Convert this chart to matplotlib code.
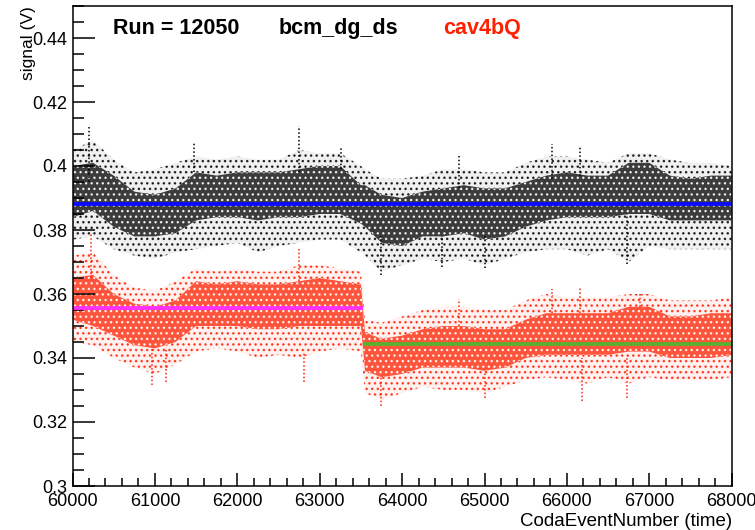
import matplotlib
matplotlib.use("Agg")
import matplotlib.pyplot as plt
from matplotlib.ticker import MultipleLocator

plt.rcParams["font.family"] = ["Liberation Sans", "DejaVu Sans"]
plt.rcParams["hatch.linewidth"] = 1.0

# ---------- data ----------

run_label = "Run = 12050"
name_bcm = "bcm_dg_ds"
name_cav = "cav4bQ"

# event number grid (every 250 events, plus the point where cav4bQ steps down)
event_x = [60000, 60250, 60500, 60750, 61000, 61250, 61500, 61750, 62000,
           62250, 62500, 62750, 63000, 63250, 63500, 63550, 63750, 64000,
           64250, 64500, 64750, 65000, 65250, 65500, 65750, 66000, 66250,
           66500, 66750, 67000, 67250, 67500, 67750, 68000]

# bcm_dg_ds: dense band and outer envelope (V)
bcm_core_lo = [0.384, 0.386, 0.381, 0.378, 0.378, 0.379, 0.383, 0.384, 0.384,
               0.383, 0.384, 0.384, 0.385, 0.385, 0.382, 0.381, 0.376, 0.375,
               0.378, 0.378, 0.379, 0.377, 0.378, 0.381, 0.383, 0.384, 0.384,
               0.384, 0.385, 0.385, 0.383, 0.383, 0.383, 0.383]
bcm_core_hi = [0.400, 0.401, 0.397, 0.392, 0.391, 0.393, 0.398, 0.397, 0.398,
               0.398, 0.398, 0.399, 0.400, 0.400, 0.394, 0.394, 0.391, 0.390,
               0.392, 0.393, 0.394, 0.393, 0.393, 0.395, 0.397, 0.398, 0.397,
               0.397, 0.401, 0.401, 0.397, 0.396, 0.397, 0.397]
bcm_out_lo = [0.377, 0.378, 0.374, 0.372, 0.371, 0.373, 0.374, 0.375, 0.376,
              0.373, 0.375, 0.376, 0.377, 0.377, 0.373, 0.372, 0.367, 0.369,
              0.371, 0.370, 0.371, 0.369, 0.371, 0.373, 0.374, 0.374, 0.372,
              0.374, 0.370, 0.375, 0.374, 0.374, 0.374, 0.374]
bcm_out_hi = [0.405, 0.408, 0.402, 0.398, 0.399, 0.401, 0.403, 0.402, 0.403,
              0.402, 0.402, 0.405, 0.404, 0.404, 0.400, 0.399, 0.396, 0.396,
              0.397, 0.399, 0.399, 0.398, 0.398, 0.401, 0.403, 0.403, 0.402,
              0.401, 0.404, 0.404, 0.402, 0.401, 0.401, 0.400]

# cav4bQ: dense band and outer envelope (V)
cav_core_lo = [0.352, 0.350, 0.347, 0.344, 0.343, 0.345, 0.350, 0.350, 0.350,
               0.349, 0.349, 0.350, 0.350, 0.350, 0.350, 0.336, 0.334, 0.335,
               0.337, 0.337, 0.337, 0.336, 0.337, 0.340, 0.341, 0.341, 0.341,
               0.341, 0.342, 0.342, 0.340, 0.340, 0.340, 0.341]
cav_core_hi = [0.365, 0.366, 0.360, 0.357, 0.356, 0.358, 0.364, 0.363, 0.364,
               0.363, 0.363, 0.364, 0.365, 0.364, 0.363, 0.348, 0.346, 0.347,
               0.349, 0.350, 0.350, 0.349, 0.349, 0.352, 0.354, 0.354, 0.354,
               0.354, 0.356, 0.356, 0.353, 0.353, 0.354, 0.354]
cav_out_lo = [0.345, 0.344, 0.340, 0.337, 0.335, 0.338, 0.342, 0.343, 0.342,
              0.340, 0.341, 0.340, 0.342, 0.343, 0.342, 0.329, 0.327, 0.329,
              0.331, 0.330, 0.330, 0.329, 0.331, 0.333, 0.334, 0.333, 0.332,
              0.334, 0.332, 0.334, 0.333, 0.333, 0.333, 0.334]
cav_out_hi = [0.372, 0.373, 0.366, 0.362, 0.361, 0.364, 0.368, 0.367, 0.368,
              0.367, 0.367, 0.369, 0.369, 0.368, 0.367, 0.352, 0.351, 0.353,
              0.355, 0.356, 0.356, 0.355, 0.355, 0.358, 0.360, 0.359, 0.359,
              0.359, 0.360, 0.360, 0.358, 0.358, 0.358, 0.359]

# isolated spikes of single readings
bcm_spike_x = [60200, 61480, 62750, 63255, 64690, 65820, 66160,
               63740, 64490, 65010, 66730]
bcm_spike_lo = [0.395, 0.398, 0.398, 0.399, 0.393, 0.396, 0.397,
                0.366, 0.3685, 0.368, 0.3695]
bcm_spike_hi = [0.4125, 0.4075, 0.4125, 0.4055, 0.4035, 0.407, 0.406,
                0.378, 0.378, 0.378, 0.385]

cav_spike_x = [60220, 62750, 60970, 61130, 62810, 63740, 65010,
               66730, 66180, 65820, 64690, 66160, 66890]
cav_spike_lo = [0.365, 0.364, 0.3315, 0.3325, 0.3325, 0.325, 0.3275,
                0.3275, 0.3265, 0.354, 0.350, 0.354, 0.356]
cav_spike_hi = [0.379, 0.3745, 0.343, 0.343, 0.342, 0.334, 0.336,
                0.340, 0.340, 0.3615, 0.3585, 0.362, 0.360]

# constant fits: (start, stop, value)
fit_bcm = (60000, 68000, 0.3880)
fit_cav_before = (60000, 63520, 0.3556)
fit_cav_after = (63520, 68000, 0.3445)


# ---------- drawing helpers ----------

def draw_band(ax, lo_out, hi_out, lo_core, hi_core, color):
    # Sparse dots for the outer envelope, dense speckle for the core.
    ax.fill_between(event_x, lo_out, hi_out, facecolor=color, alpha=0.06,
                    linewidth=0)
    ax.fill_between(event_x, lo_out, hi_out, facecolor="none", edgecolor=color,
                    hatch="...", linewidth=0, alpha=0.8)
    ax.fill_between(event_x, lo_core, hi_core, facecolor=color, alpha=0.75,
                    linewidth=0)
    ax.fill_between(event_x, lo_core, hi_core, facecolor="none",
                    edgecolor="white", hatch="...", linewidth=0, alpha=0.9)


def draw_spikes(ax, xs, lo, hi, color):
    ax.vlines(xs, lo, hi, colors=color, linestyles=(0, (1, 1.5)), linewidth=1.1)


# ---------- figure ----------

fig = plt.figure(figsize=(7.55, 5.30), dpi=100)
ax = fig.add_axes([72.5 / 755, 44 / 530, 659.2 / 755, 480 / 530])

draw_band(ax, bcm_out_lo, bcm_out_hi, bcm_core_lo, bcm_core_hi, "black")
draw_band(ax, cav_out_lo, cav_out_hi, cav_core_lo, cav_core_hi, "#ff2000")
draw_spikes(ax, bcm_spike_x, bcm_spike_lo, bcm_spike_hi, "black")
draw_spikes(ax, cav_spike_x, cav_spike_lo, cav_spike_hi, "#ff2000")

ax.hlines(fit_bcm[2], fit_bcm[0], fit_bcm[1], colors="#0a0aff", linewidth=2.7)
ax.hlines(fit_cav_before[2], fit_cav_before[0], fit_cav_before[1],
          colors="#ff30ff", linewidth=2.7)
ax.hlines(fit_cav_after[2], fit_cav_after[0], fit_cav_after[1],
          colors="#58b030", linewidth=2.7)

ax.set_xlim(60000, 68000)
ax.set_ylim(0.30, 0.45)

# ROOT-like frame: ticks inside on left and bottom only
ax.xaxis.set_major_locator(MultipleLocator(1000))
ax.xaxis.set_minor_locator(MultipleLocator(200))
ax.yaxis.set_major_locator(MultipleLocator(0.02))
ax.yaxis.set_minor_locator(MultipleLocator(0.005))
ax.tick_params(axis="x", which="major", direction="in", length=9.5, width=1.1,
               labelsize=13, pad=5)
ax.tick_params(axis="x", which="minor", direction="in", length=5.5, width=1.1)
ax.tick_params(axis="y", which="major", direction="in", length=16, width=1.1,
               labelsize=13, pad=4)
ax.tick_params(axis="y", which="minor", direction="in", length=8, width=1.1)
ax.set_yticks([0.30, 0.32, 0.34, 0.36, 0.38, 0.40, 0.42, 0.44])
ax.set_yticklabels(["0.3", "0.32", "0.34", "0.36", "0.38", "0.4", "0.42", "0.44"])
for spine in ax.spines.values():
    spine.set_linewidth(1.1)

ax.set_xlabel("CodaEventNumber (time)", fontsize=13.5, loc="right")
ax.xaxis.set_label_coords(1.0, -(522 - 486) / 480)
ax.xaxis.label.set_verticalalignment("center")
ax.set_ylabel("signal (V)", fontsize=12.5, loc="top")
ax.yaxis.set_label_coords(-(72.5 - 36) / 659.2, 1.0)

ax.text(0.061, 0.942, run_label, transform=ax.transAxes, fontsize=15.5,
        fontweight="bold", color="black")
ax.text(0.312, 0.942, name_bcm, transform=ax.transAxes, fontsize=15.5,
        fontweight="bold", color="black")
ax.text(0.562, 0.942, name_cav, transform=ax.transAxes, fontsize=15.5,
        fontweight="bold", color="#ff2000")

fig.savefig("out.png", dpi=100)
